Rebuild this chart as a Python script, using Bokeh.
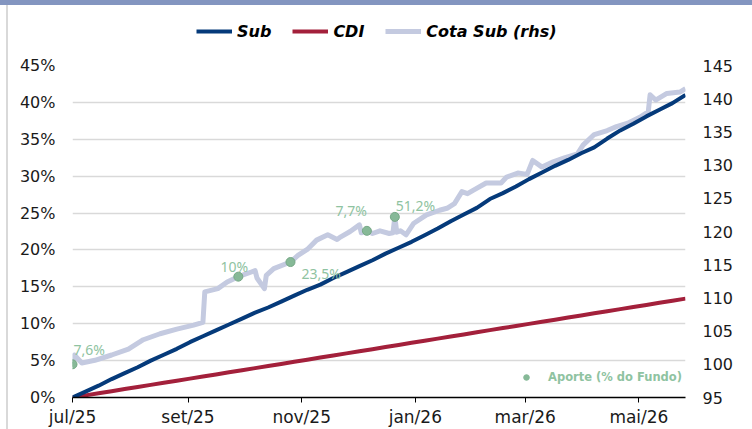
import pandas as pd
from bokeh.plotting import figure
from bokeh.layouts import column, row
from bokeh.models import (ColumnDataSource, Range1d, LinearAxis, FixedTicker, Legend, LegendItem,
                          PrintfTickFormatter, Div)
from bokeh.core.properties import value
from bokeh.embed import file_html
from bokeh.resources import INLINE

# ---------------- data ----------------
week_dates = pd.date_range("2025-07-01", periods=48, freq="7D")

sub_pct = [0.0, 0.8, 1.6, 2.5, 3.3, 4.1, 5.0, 5.8, 6.6, 7.5,
           8.3, 9.1, 9.9, 10.7, 11.5, 12.2, 13.0, 13.8, 14.6, 15.3,
           16.2, 17.0, 17.8, 18.6, 19.5, 20.3, 21.1, 22.0, 22.9, 23.9,
           24.8, 25.7, 26.9, 27.7, 28.6, 29.6, 30.5, 31.4, 32.2, 33.1,
           33.9, 35.1, 36.2, 37.1, 38.1, 39.0, 39.9, 41.0]

cdi_pct = [0.00, 0.29, 0.57, 0.86, 1.14, 1.42, 1.71, 1.99, 2.27, 2.56,
           2.84, 3.13, 3.41, 3.70, 3.98, 4.27, 4.55, 4.84, 5.12, 5.41,
           5.69, 5.98, 6.27, 6.55, 6.84, 7.12, 7.41, 7.70, 7.98, 8.27,
           8.55, 8.84, 9.13, 9.41, 9.70, 9.98, 10.27, 10.55, 10.84, 11.12,
           11.41, 11.69, 11.98, 12.26, 12.55, 12.83, 13.12, 13.40]

cota_dates = ["2025-07-01", "2025-07-02", "2025-07-06", "2025-07-13", "2025-07-22", "2025-07-31",
              "2025-08-08", "2025-08-17", "2025-08-26", "2025-09-04", "2025-09-09", "2025-09-10",
              "2025-09-17", "2025-09-22", "2025-09-28", "2025-10-05", "2025-10-07", "2025-10-08",
              "2025-10-12", "2025-10-13", "2025-10-17", "2025-10-26", "2025-10-30", "2025-11-04",
              "2025-11-09", "2025-11-15", "2025-11-20", "2025-11-22", "2025-11-27", "2025-12-02",
              "2025-12-03", "2025-12-06", "2025-12-09", "2025-12-13", "2025-12-18", "2025-12-20",
              "2025-12-21", "2025-12-22", "2025-12-24", "2025-12-27", "2025-12-31", "2026-01-07",
              "2026-01-14", "2026-01-18", "2026-01-22", "2026-01-26", "2026-01-29", "2026-02-01",
              "2026-02-08", "2026-02-16", "2026-02-19", "2026-02-25", "2026-03-02", "2026-03-05",
              "2026-03-10", "2026-03-16", "2026-03-22", "2026-03-29", "2026-04-01", "2026-04-07",
              "2026-04-14", "2026-04-19", "2026-04-25", "2026-05-02", "2026-05-06", "2026-05-07",
              "2026-05-10", "2026-05-16", "2026-05-23", "2026-05-26"]
cota_vals = [100.0, 101.4, 100.2, 100.6, 101.4, 102.3,
             103.7, 104.6, 105.3, 105.9, 106.3, 110.9,
             111.4, 112.4, 113.2, 113.9, 114.1, 113.0,
             111.4, 113.4, 114.4, 115.4, 116.4, 117.3,
             118.7, 119.5, 118.8, 119.2, 120.0, 121.0,
             119.8, 120.1, 119.7, 120.1, 119.7, 119.8,
             122.2, 119.9, 120.1, 119.5, 121.2, 122.5,
             123.2, 123.5, 124.2, 126.0, 125.7, 126.2,
             127.3, 127.3, 128.2, 128.8, 128.6, 130.7,
             129.7, 130.5, 131.1, 131.7, 133.0, 134.6,
             135.2, 135.8, 136.3, 137.3, 138.0, 140.6,
             139.8, 140.8, 141.0, 141.5]

aporte_dates = ["2025-07-01", "2025-09-28", "2025-10-26", "2025-12-06", "2025-12-21"]
aporte_vals = [100.0, 113.2, 115.4, 120.1, 122.2]
aporte_labels = ["7,6%", "10%", "23,5%", "7,7%", "51,2%"]

y_ticks_left = [0, 5, 10, 15, 20, 25, 30, 35, 40, 45]
y_ticks_right = [95, 100, 105, 110, 115, 120, 125, 130, 135, 140, 145]
x_tick_dates = ["2025-07-01", "2025-09-01", "2025-11-01", "2026-01-01", "2026-03-01", "2026-05-01"]
x_tick_labels = ["jul/25", "set/25", "nov/25", "jan/26", "mar/26", "mai/26"]
series_names = ["Sub", "CDI", "Cota Sub (rhs)"]
aporte_name = "Aporte (% do Fundo)"

# ---------------- styles ----------------
label_dx = [1, -4, 11, 0, 1]
label_dy = [-15, -10, 11, -20, -11]
label_align = ["left", "center", "left", "right", "left"]

C_SUB = "#053A7A"
C_CDI = "#A3203B"
C_COTA = "#C4CAE0"
C_GREEN = "#86B997"
C_GREEN_TXT = "#8FC3A1"
FONT = "DejaVu Sans"

W = 744
H_LEG = 50
H = 374

# ---------------- main chart ----------------
p = figure(width=W, height=H, x_axis_type="datetime",
           x_range=Range1d(pd.Timestamp("2025-07-01"), pd.Timestamp("2026-05-26")),
           y_range=Range1d(0, 45),
           output_backend="svg", toolbar_location=None,
           min_border_left=64, min_border_right=67, min_border_top=10, min_border_bottom=31)
p.extra_y_ranges = {"rhs": Range1d(95, 145)}
p.outline_line_color = None
p.background_fill_color = "white"
p.border_fill_color = "white"

p.xgrid.visible = False
p.ygrid.ticker = FixedTicker(ticks=y_ticks_left)
p.ygrid.grid_line_color = "#D9D9D9"
p.ygrid.grid_line_width = 1.3

src_w = ColumnDataSource(dict(d=week_dates, sub=sub_pct, cdi=cdi_pct))
src_c = ColumnDataSource(dict(d=pd.to_datetime(cota_dates), v=cota_vals))
p.line("d", "v", source=src_c, y_range_name="rhs", line_color=C_COTA, line_width=5,
       line_join="round")
p.line("d", "cdi", source=src_w, line_color=C_CDI, line_width=4, line_join="round")
p.line("d", "sub", source=src_w, line_color=C_SUB, line_width=4, line_join="round")

src_a = ColumnDataSource(dict(d=pd.to_datetime(aporte_dates), v=aporte_vals, t=aporte_labels,
                              dx=label_dx, dy=label_dy, al=label_align))
# small-dot renderer (hidden under the markers) used only for the legend swatch
r_dot = p.scatter("d", "v", source=src_a, y_range_name="rhs", size=4, fill_color=C_GREEN,
                  line_color=C_GREEN)
p.scatter("d", "v", source=src_a, y_range_name="rhs", size=9, fill_color=C_GREEN,
          line_color="#76A886", line_width=1)
p.text("d", "v", text="t", source=src_a, y_range_name="rhs", x_offset="dx", y_offset="dy",
       text_align="al", text_baseline="alphabetic", text_font=value("Noto Sans"),
       text_font_size="14px", text_color=C_GREEN_TXT)

ax = p.xaxis[0]
tick_ms = [pd.Timestamp(d).timestamp() * 1000.0 for d in x_tick_dates]
ax.ticker = FixedTicker(ticks=tick_ms)
ax.major_label_overrides = {t: l for t, l in zip(tick_ms, x_tick_labels)}
ax.axis_line_color = "black"
ax.axis_line_width = 1.5
ax.major_tick_line_color = "black"
ax.major_tick_out = 5
ax.major_tick_in = 0
ax.minor_tick_line_color = None
ax.major_label_standoff = 4
ax.major_label_text_font = FONT
ax.major_label_text_font_size = "17px"
ax.major_label_text_color = "#1a1a1a"

ly = p.yaxis[0]
ly.ticker = FixedTicker(ticks=y_ticks_left)
ly.formatter = PrintfTickFormatter(format="%d%%")
ly.axis_line_color = None
ly.major_tick_line_color = None
ly.major_tick_out = 0
ly.major_tick_in = 0
ly.minor_tick_line_color = None
ly.major_label_standoff = 17
ly.major_label_text_font = FONT
ly.major_label_text_font_size = "16px"
ly.major_label_text_color = "#1a1a1a"

ry = LinearAxis(y_range_name="rhs", ticker=FixedTicker(ticks=y_ticks_right))
ry.axis_line_color = None
ry.major_tick_line_color = None
ry.major_tick_out = 0
ry.major_tick_in = 0
ry.minor_tick_line_color = None
ry.major_label_standoff = 17
ry.major_label_text_font = FONT
ry.major_label_text_font_size = "16px"
ry.major_label_text_color = "#1a1a1a"
p.add_layout(ry, "right")

# aporte legend (inside, bottom right)
leg2 = Legend(items=[LegendItem(label=aporte_name, renderers=[r_dot])],
              location=(447, 10), glyph_width=14, glyph_height=20, label_standoff=15,
              padding=0, margin=0,
              label_text_font=FONT, label_text_font_style="bold",
              label_text_font_size="11.5px", label_text_color=C_GREEN_TXT,
              background_fill_alpha=0, border_line_alpha=0)
p.add_layout(leg2, "center")

# ---------------- top legend strip ----------------
# same data sources, drawn far outside this strip's ranges: only the legend swatches show
lf = figure(width=W, height=H_LEG, x_range=Range1d(0, 1), y_range=Range1d(0, 1),
            output_backend="svg", toolbar_location=None,
            min_border_left=0, min_border_right=0, min_border_top=0, min_border_bottom=0,
            x_axis_location=None, y_axis_location=None)
lf.grid.visible = False
lf.outline_line_color = None
lf.border_fill_color = "white"
l_sub = lf.line("d", "sub", source=src_w, line_color=C_SUB, line_width=4)
l_cdi = lf.line("d", "cdi", source=src_w, line_color=C_CDI, line_width=4)
l_cota = lf.line("d", "v", source=src_c, line_color=C_COTA, line_width=5)
leg = Legend(items=[LegendItem(label=series_names[0], renderers=[l_sub]),
                    LegendItem(label=series_names[1], renderers=[l_cdi]),
                    LegendItem(label=series_names[2], renderers=[l_cota])],
             orientation="horizontal", location=(124, 14),
             glyph_width=36, glyph_height=20, label_standoff=5, spacing=21,
             padding=0, margin=0,
             label_text_font=FONT, label_text_font_style="bold italic",
             label_text_font_size="16px", label_text_color="black",
             background_fill_alpha=0, border_line_alpha=0)
lf.add_layout(leg, "center")

# decorative frame pieces of the original slide
band = Div(text="", width=752, height=5, margin=0,
           styles={"background-color": "#8395C0", "padding": "0"})
spacer = Div(text="", width=6, height=H_LEG + H, margin=0, styles={"padding": "0"})
vline = Div(text="", width=2, height=H_LEG + H, margin=0,
            styles={"background-color": "#D9D9D9", "padding": "0"})
layout = column(band, row(spacer, vline, column(lf, p, spacing=0), spacing=0), spacing=0)

open("out.html", "w").write(file_html(layout, INLINE))
